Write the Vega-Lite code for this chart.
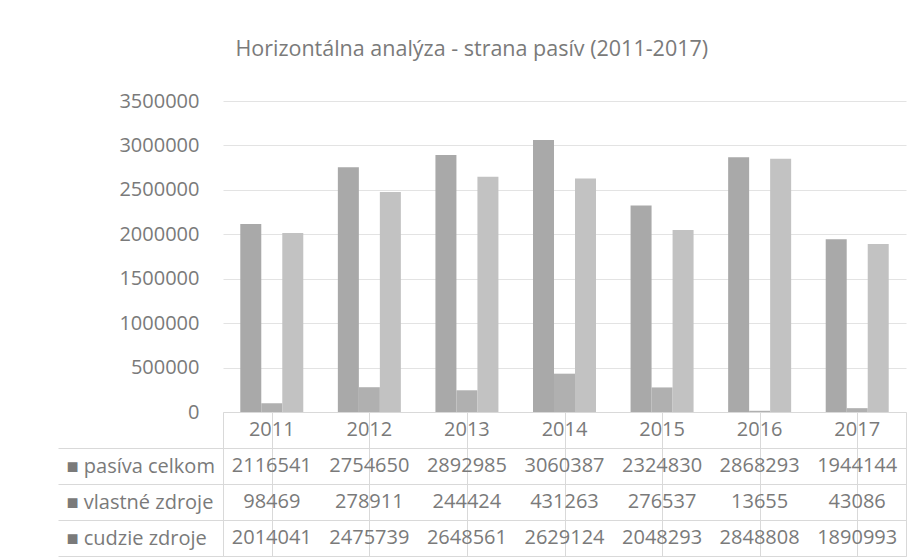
{
  "$schema": "https://vega.github.io/schema/vega-lite/v6.json",
  "padding": {"left": 57, "top": 38, "right": 11, "bottom": 4},
  "background": "white",
  "bounds": "flush",
  "title": {
    "text": "Horizontálna analýza - strana pasív (2011-2017)",
    "fontSize": 21.5,
    "font": "Open Sans",
    "fontWeight": "normal",
    "color": "#7a7a7a",
    "anchor": "middle",
    "dx": -10,
    "offset": 31
  },
  "data": {
    "values": [
      {"year": "2011", "series": "pasíva celkom", "value": 2116541},
      {"year": "2012", "series": "pasíva celkom", "value": 2754650},
      {"year": "2013", "series": "pasíva celkom", "value": 2892985},
      {"year": "2014", "series": "pasíva celkom", "value": 3060387},
      {"year": "2015", "series": "pasíva celkom", "value": 2324830},
      {"year": "2016", "series": "pasíva celkom", "value": 2868293},
      {"year": "2017", "series": "pasíva celkom", "value": 1944144},
      {"year": "2011", "series": "vlastné zdroje", "value": 98469},
      {"year": "2012", "series": "vlastné zdroje", "value": 278911},
      {"year": "2013", "series": "vlastné zdroje", "value": 244424},
      {"year": "2014", "series": "vlastné zdroje", "value": 431263},
      {"year": "2015", "series": "vlastné zdroje", "value": 276537},
      {"year": "2016", "series": "vlastné zdroje", "value": 13655},
      {"year": "2017", "series": "vlastné zdroje", "value": 43086},
      {"year": "2011", "series": "cudzie zdroje", "value": 2014041},
      {"year": "2012", "series": "cudzie zdroje", "value": 2475739},
      {"year": "2013", "series": "cudzie zdroje", "value": 2648561},
      {"year": "2014", "series": "cudzie zdroje", "value": 2629124},
      {"year": "2015", "series": "cudzie zdroje", "value": 2048293},
      {"year": "2016", "series": "cudzie zdroje", "value": 2848808},
      {"year": "2017", "series": "cudzie zdroje", "value": 1890993}
    ]
  },
  "spacing": 0,
  "vconcat": [
    {
      "width": 683,
      "height": 311,
      "view": {"stroke": null},
      "mark": {"type": "bar"},
      "encoding": {
        "x": {"field": "year", "type": "nominal", "scale": {"paddingInner": 0, "paddingOuter": 0}, "axis": null},
        "xOffset": {"field": "series", "type": "nominal", "sort": ["pasíva celkom", "vlastné zdroje", "cudzie zdroje"], "scale": {"paddingInner": 0, "paddingOuter": 0.823}},
        "y": {
          "field": "value", "type": "quantitative",
          "scale": {"domain": [0, 3500000]},
          "axis": {
            "title": null,
            "values": [0, 500000, 1000000, 1500000, 2000000, 2500000, 3000000, 3500000],
            "format": "d",
            "domain": false, "ticks": false,
            "gridColor": "#e3e3e3",
            "labelPadding": 24,
            "labelFontSize": 20, "labelFont": "Open Sans", "labelColor": "#7a7a7a"
          }
        },
        "color": {
          "field": "series", "type": "nominal",
          "scale": {"domain": ["pasíva celkom", "vlastné zdroje", "cudzie zdroje"], "range": ["#a9a9a9", "#b0b0b0", "#c2c2c2"]},
          "legend": null
        }
      }
    },
    {
      "width": 683,
      "height": 144,
      "view": {"stroke": "#d9d9d9"},
      "encoding": {
        "x": {"field": "year", "type": "nominal", "scale": {"paddingInner": 0, "paddingOuter": 0},
          "axis": {"title": null, "labels": false, "ticks": false, "domain": false, "grid": true, "bandPosition": 0, "gridColor": "#d9d9d9"}},
        "y": {
          "field": "series", "type": "nominal",
          "scale": {"domain": ["rok", "pasíva celkom", "vlastné zdroje", "cudzie zdroje"], "paddingInner": 0, "paddingOuter": 0},
          "axis": {
            "title": null,
            "values": ["rok", "pasíva celkom", "vlastné zdroje", "cudzie zdroje"],
            "tickOffset": 18,
            "labelOffset": -18,
            "tickSize": 165,
            "tickColor": "#d9d9d9",
            "grid": true,
            "gridColor": "#d9d9d9",
            "domain": false,
            "labelAlign": "left",
            "labelPadding": -8,
            "labelBaseline": "middle",
            "labelExpr": "datum.value == 'rok' ? '' : '■ ' + datum.value",
            "labelFontSize": 20, "labelFont": "Open Sans", "labelColor": "#7a7a7a"
          }
        }
      },
      "layer": [
        {
          "transform": [{"filter": "datum.series == 'pasíva celkom'"}],
          "mark": {"type": "text", "fontSize": 20, "font": "Open Sans", "color": "#7a7a7a"},
          "encoding": {
            "y": {"datum": "rok", "type": "nominal"},
            "text": {"field": "year", "type": "nominal"}
          }
        },
        {
          "mark": {"type": "text", "fontSize": 20, "font": "Open Sans", "color": "#7a7a7a"},
          "encoding": {
            "text": {"field": "value", "type": "quantitative", "format": "d"}
          }
        }
      ]
    }
  ]
}
